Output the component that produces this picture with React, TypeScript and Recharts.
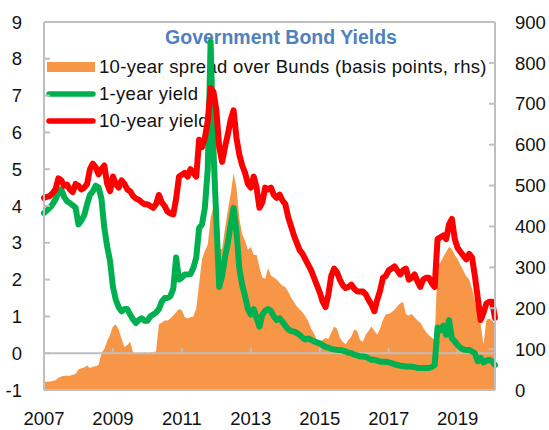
import React from 'react';
import { Area, ComposedChart, Legend, Line, ReferenceLine, XAxis, YAxis } from 'recharts';

const FONT = '"Liberation Sans", Arial, sans-serif';
const AXIS_GREY = '#bfbfbf';
const TEXT = '#111';

const SPREAD_NAME = '10-year spread over Bunds (basis points, rhs)';
const ONE_YEAR_NAME = '1-year yield';
const TEN_YEAR_NAME = '10-year yield';
const legendOrder = [SPREAD_NAME, ONE_YEAR_NAME, TEN_YEAR_NAME];

// month-end readings, Jan 2007 .. Feb 2020
const spreadBp = [
  20, 20, 21, 22, 24, 30, 33, 35, 35, 35, 37, 39,
  50, 53, 55, 60, 54, 57, 58, 62, 90, 100, 120, 135,
  155, 160, 148, 125, 105, 110, 118, 92, 90, 90, 90, 92,
  90, 92, 92, 95, 160, 165, 170, 170, 175, 182, 190, 198,
  195, 178, 175, 178, 180, 200, 260, 320, 340, 355, 420, 450,
  390, 345, 345, 395, 440, 480, 530, 495, 420, 380, 365, 343,
  350, 330, 330, 300, 275, 272, 298, 280, 275, 270, 262, 255,
  252, 240, 226, 215, 205, 197, 190, 180, 168, 150, 138, 122,
  115, 122, 128, 124, 140, 155, 150, 128, 118, 112, 122, 131,
  148, 145, 122, 118, 135, 145, 155, 145, 135, 150, 172, 185,
  186, 190, 196, 205, 212, 215, 185, 182, 186, 178, 170, 165,
  152, 142, 134, 128, 122, 305, 312, 325, 338, 350, 345, 330,
  320, 305, 292, 278, 270, 248, 218, 185, 160, 110, 172, 175,
  170, 162,
];

const yield1y = [
  3.81, 3.88, 3.95, 4.05, 4.18, 4.35, 4.45, 4.25, 4.13, 4.08, 4.02, 3.95,
  3.5, 3.6, 3.75, 4.05, 4.3, 4.4, 4.55, 4.5, 4.2, 3.4, 2.9, 2.5,
  1.8, 1.45, 1.25, 1.14, 1.2, 1.2, 1.05, 0.92, 0.82, 0.9, 0.95, 0.88,
  0.88, 1.0, 1.05, 1.1, 1.2, 1.4, 1.5, 1.5, 1.55, 1.75, 2.6, 2.0,
  2.05, 2.14, 2.14, 2.15, 2.32, 2.6, 3.4, 3.5, 3.95, 5.0, 8.46, 5.5,
  3.6, 1.8, 2.1, 2.6, 3.0, 3.5, 3.95, 3.3, 2.3, 1.85, 1.55, 1.2,
  1.05, 1.2, 0.96, 0.72, 1.05, 1.15, 1.2, 1.15, 1.0, 0.9, 0.95, 0.85,
  0.75, 0.65, 0.6, 0.59, 0.55, 0.5, 0.42, 0.37, 0.4, 0.36, 0.32, 0.29,
  0.27, 0.22, 0.17, 0.15, 0.12, 0.1, 0.09, 0.09, 0.07, 0.05, 0.01, 0.0,
  -0.04, -0.06, -0.09, -0.09, -0.1, -0.14, -0.18, -0.18, -0.2, -0.23, -0.23, -0.23,
  -0.25, -0.27, -0.3, -0.32, -0.34, -0.35, -0.36, -0.36, -0.37, -0.38, -0.4, -0.4,
  -0.4, -0.4, -0.4, -0.38, -0.32, 0.7, 0.62, 0.75, 0.5, 0.9, 0.4, 0.32,
  0.22, 0.15, 0.1, 0.09, 0.09, 0.05, 0.0, -0.22, -0.13, -0.25, -0.2, -0.18,
  -0.22, -0.32,
];

const yield10y = [
  4.22, 4.25, 4.27, 4.35, 4.45, 4.75, 4.7, 4.55, 4.58, 4.45, 4.38, 4.6,
  4.55, 4.45, 4.5, 4.6, 5.0, 5.15, 5.05, 4.86, 5.0, 5.1, 4.6, 4.4,
  4.8, 4.6, 4.5, 4.7, 4.6, 4.45, 4.4, 4.27, 4.2, 4.17, 4.1, 4.05,
  4.05, 4.0, 3.95, 4.05, 4.3, 4.1, 4.0, 3.85, 3.8, 3.77, 4.2, 4.8,
  4.85, 4.9, 4.8, 5.0, 4.9, 4.8, 5.8, 5.6, 5.85, 6.3, 7.2, 7.1,
  6.6, 5.6, 5.2, 5.6, 5.95, 6.35, 6.6, 5.85, 5.4, 5.1, 4.9, 4.6,
  4.5, 4.8, 4.5, 3.95, 4.1, 4.5, 4.45, 4.5, 4.3, 4.22, 4.31, 4.15,
  4.05, 3.7, 3.45, 3.2, 3.0, 2.8, 2.7, 2.55, 2.4, 2.25, 2.05, 1.85,
  1.65, 1.4, 1.25, 1.6, 2.1, 2.3, 2.2, 2.0, 1.85, 1.77, 1.8, 1.86,
  1.75, 1.68, 1.68, 1.68, 1.6, 1.45, 1.32, 1.14, 1.45, 1.7, 2.05, 2.1,
  2.25, 2.3, 2.36, 2.25, 2.14, 2.25, 2.3, 2.0, 2.05, 2.14, 1.95, 1.8,
  2.0, 2.05, 2.05, 1.9, 1.8, 3.1, 3.15, 3.2, 3.1, 3.5, 3.65, 3.1,
  2.86, 2.75, 2.65, 2.55, 2.7, 2.6, 2.1, 1.5, 0.9, 1.1, 1.35, 1.4,
  1.4, 0.96,
];

const yearTicks = [2007, 2009, 2011, 2013, 2015, 2017, 2019];
const leftTicks = [-1, 0, 1, 2, 3, 4, 5, 6, 7, 8, 9];
const rightTicks = [0, 100, 200, 300, 400, 500, 600, 700, 800, 900];

const data = spreadBp.map((spread, i) => ({
  t: 2007 + i / 12,
  spread,
  y1: yield1y[i],
  y10: yield10y[i],
}));

const labelStyle = { fontSize: 18.5, fill: TEXT, fontFamily: FONT };

// value axes: label outside, short tick mark pointing into the plot
const LeftTick = (props: any) => {
  const { x, y, payload } = props;
  return (
    <g>
      <line x1={x + 22} x2={x + 28} y1={y} y2={y} stroke={AXIS_GREY} strokeWidth={2} />
      <text x={x} y={y} dy="0.36em" textAnchor="end" {...labelStyle}>
        {payload.value}
      </text>
    </g>
  );
};

const RightTick = (props: any) => {
  const { x, y, payload } = props;
  return (
    <g>
      <line x1={x - 26} x2={x - 20} y1={y} y2={y} stroke={AXIS_GREY} strokeWidth={2} />
      <text x={x} y={y} dy="0.36em" textAnchor="start" {...labelStyle}>
        {payload.value}
      </text>
    </g>
  );
};

const renderLegend = (props: any) => {
  const items = [...(props.payload || [])].sort(
    (a: any, b: any) => legendOrder.indexOf(a.value) - legendOrder.indexOf(b.value),
  );
  return (
    <div style={{ fontFamily: FONT, fontSize: 18.5, color: TEXT, letterSpacing: 0.3 }}>
      {items.map((entry: any) => (
        <div
          key={entry.value}
          style={{ display: 'flex', alignItems: 'center', height: 27, whiteSpace: 'nowrap' }}
        >
          <svg width={53} height={14} style={{ flex: 'none' }}>
            {entry.type === 'rect' ? (
              <rect x={1} y={2} width={48} height={10} fill={entry.color} />
            ) : (
              <line
                x1={3}
                x2={47}
                y1={7}
                y2={7}
                stroke={entry.color}
                strokeWidth={5.5}
                strokeLinecap="round"
              />
            )}
          </svg>
          <span>{entry.value}</span>
        </div>
      ))}
    </div>
  );
};

export default function App() {
  return (
    <div style={{ position: 'absolute', left: 0, top: 0, width: 549, height: 430, zIndex: 0 }}>
      <div
        style={{
          position: 'absolute',
          left: 131,
          top: 27.5,
          width: 300,
          textAlign: 'center',
          fontFamily: FONT,
          fontWeight: 'bold',
          fontSize: 19.5,
          lineHeight: 1,
          color: '#4f81bd',
          whiteSpace: 'nowrap',
        }}
      >
        Government Bond Yields
      </div>
      <ComposedChart width={549} height={430} data={data} margin={{ top: 22, right: 0, bottom: 0, left: 0 }}>
        <XAxis
          dataKey="t"
          type="number"
          domain={[2007, 2007 + 157 / 12]}
          ticks={yearTicks}
          interval={0}
          height={40}
          tickSize={0}
          tickMargin={22}
          tick={labelStyle}
          axisLine={{ stroke: AXIS_GREY, strokeWidth: 2 }}
        />
        <YAxis
          yAxisId="left"
          domain={[-1, 9]}
          ticks={leftTicks}
          interval={0}
          width={44}
          tickSize={0}
          tickMargin={22}
          tick={(p: any) => <LeftTick {...p} />}
          axisLine={{ stroke: AXIS_GREY, strokeWidth: 2 }}
        />
        <YAxis
          yAxisId="right"
          orientation="right"
          domain={[0, 900]}
          ticks={rightTicks}
          interval={0}
          width={54}
          tickSize={0}
          tickMargin={20}
          tick={(p: any) => <RightTick {...p} />}
          axisLine={{ stroke: AXIS_GREY, strokeWidth: 2 }}
        />
        <Legend
          layout="vertical"
          align="center"
          verticalAlign="middle"
          content={renderLegend}
          wrapperStyle={{ left: 46, top: 53.5, width: 460, zIndex: -1 }}
        />
        <Area
          yAxisId="right"
          type="linear"
          dataKey="spread"
          name={SPREAD_NAME}
          legendType="rect"
          fill="#f79646"
          fillOpacity={1}
          stroke="none"
          isAnimationActive={false}
        />
        <ReferenceLine yAxisId="left" y={9} stroke={AXIS_GREY} strokeWidth={2} />
        <ReferenceLine yAxisId="left" y={0} stroke={AXIS_GREY} strokeWidth={2} />
        {yearTicks.slice(1).map((yr) => (
          <ReferenceLine
            key={yr}
            yAxisId="left"
            segment={[
              { x: yr, y: 0 },
              { x: yr, y: 0.14 },
            ]}
            stroke={AXIS_GREY}
            strokeWidth={2}
          />
        ))}
        <Line
          yAxisId="left"
          type="linear"
          dataKey="y1"
          name={ONE_YEAR_NAME}
          legendType="line"
          stroke="#00b050"
          strokeWidth={6}
          strokeLinejoin="round"
          strokeLinecap="round"
          dot={false}
          activeDot={false}
          isAnimationActive={false}
        />
        <Line
          yAxisId="left"
          type="linear"
          dataKey="y10"
          name={TEN_YEAR_NAME}
          legendType="line"
          stroke="#ff0000"
          strokeWidth={6}
          strokeLinejoin="round"
          strokeLinecap="round"
          dot={false}
          activeDot={false}
          isAnimationActive={false}
        />
      </ComposedChart>
    </div>
  );
}
